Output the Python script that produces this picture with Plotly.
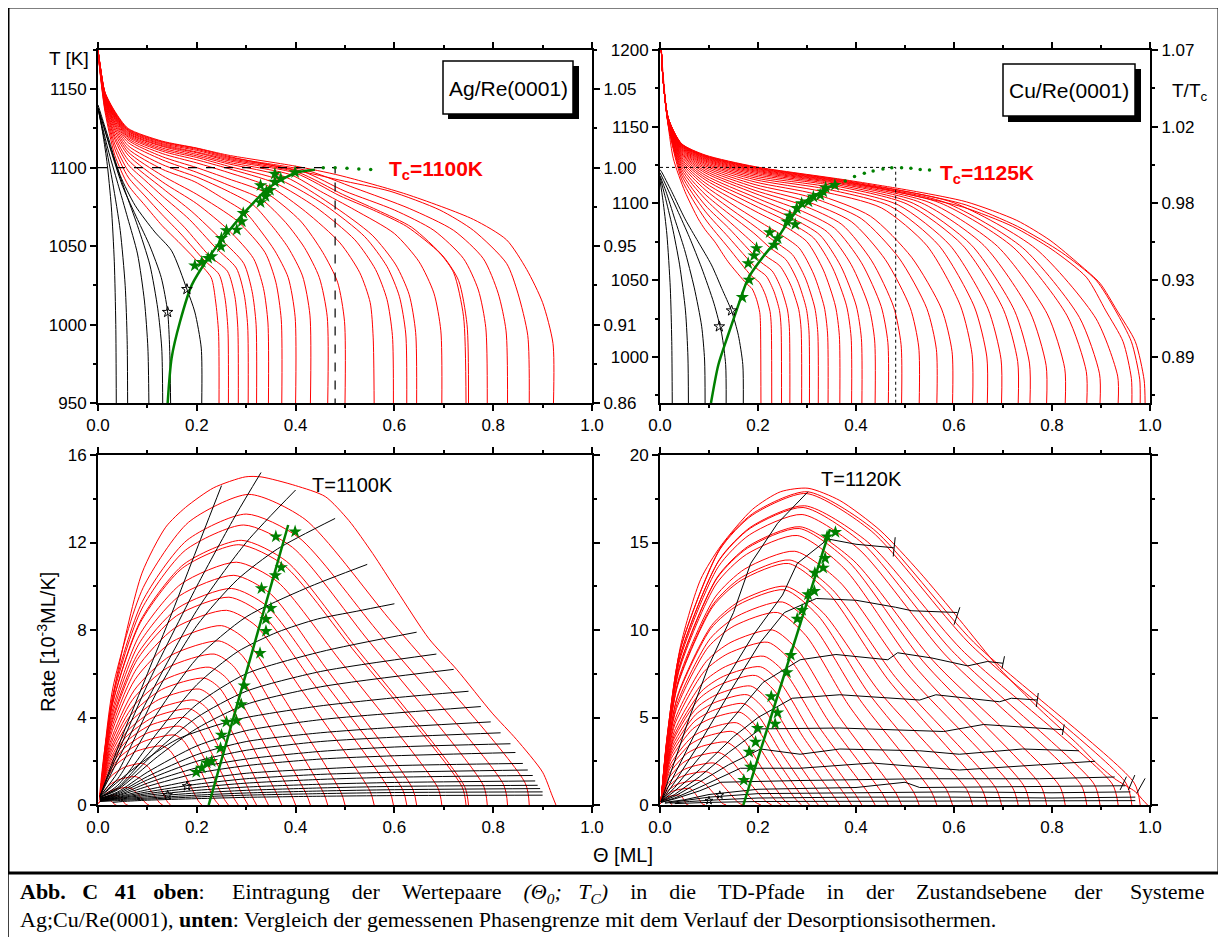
import plotly.graph_objects as go

W, H = 1226, 937
OFF = 8  # page body margin of the viewer
def fx(p): return (p - OFF) / W
def fy(p): return 1 - (p - OFF) / H

# ======================= TOP-LEFT : Ag/Re(0001) =======================
ag_T_ticks = [950, 1000, 1050, 1100, 1150]
ag_ratio_labels = ['0.86', '0.91', '0.95', '1.00', '1.05']

ag_red_theta = [
 [0.245,0.244,0.238,0.229,0.196,0.162,0.13,0.095,0.061,0.034,0.014,0.004,0.0],
 [0.264,0.263,0.257,0.245,0.215,0.17,0.13,0.095,0.061,0.034,0.014,0.004,0.0],
 [0.284,0.283,0.277,0.262,0.225,0.175,0.13,0.095,0.061,0.034,0.014,0.004,0.0],
 [0.304,0.303,0.296,0.28,0.238,0.185,0.13,0.095,0.061,0.034,0.014,0.004,0.0],
 [0.321,0.32,0.312,0.295,0.25,0.19,0.13,0.061,0.034,0.014,0.004,0.0],
 [0.345,0.344,0.335,0.315,0.265,0.2,0.13,0.061,0.034,0.014,0.004,0.0],
 [0.372,0.371,0.36,0.338,0.282,0.2,0.13,0.061,0.034,0.014,0.004,0.0],
 [0.40,0.399,0.385,0.358,0.331,0.30,0.25,0.196,0.13,0.061,0.034,0.014,0.004,0.0],
 [0.43,0.429,0.414,0.385,0.352,0.315,0.263,0.2,0.13,0.061,0.034,0.014,0.004,0.0],
 [0.465,0.464,0.448,0.418,0.38,0.33,0.263,0.2,0.13,0.061,0.034,0.014,0.004,0.0],
 [0.50,0.499,0.485,0.455,0.41,0.34,0.263,0.2,0.13,0.061,0.034,0.014,0.004,0.0],
 [0.559,0.557,0.551,0.53,0.49,0.42,0.35,0.263,0.2,0.13,0.061,0.034,0.014,0.004,0.0],
 [0.598,0.596,0.585,0.562,0.52,0.44,0.36,0.263,0.2,0.13,0.061,0.034,0.014,0.004,0.0],
 [0.625,0.623,0.61,0.585,0.54,0.46,0.37,0.263,0.2,0.13,0.061,0.034,0.014,0.004,0.0],
 [0.645,0.643,0.63,0.603,0.555,0.47,0.38,0.263,0.2,0.13,0.061,0.034,0.014,0.004,0.0],
 [0.696,0.694,0.68,0.65,0.6,0.52,0.45,0.39,0.263,0.2,0.13,0.061,0.034,0.014,0.004,0.0],
 [0.745,0.74,0.72,0.692,0.625,0.557,0.49,0.40,0.263,0.2,0.13,0.061,0.034,0.014,0.004,0.0],
 [0.75,0.747,0.73,0.70,0.635,0.565,0.495,0.405,0.263,0.2,0.13,0.061,0.034,0.014,0.004,0.0],
 [0.788,0.785,0.77,0.74,0.68,0.60,0.50,0.415,0.263,0.2,0.13,0.061,0.034,0.014,0.004,0.0],
 [0.829,0.826,0.81,0.78,0.72,0.63,0.52,0.425,0.263,0.2,0.13,0.061,0.034,0.014,0.004,0.0],
 [0.873,0.87,0.85,0.827,0.76,0.692,0.591,0.49,0.435,0.263,0.2,0.13,0.061,0.034,0.014,0.004,0.0],
 [0.922,0.921,0.90,0.868,0.827,0.76,0.625,0.49,0.399,0.263,0.2,0.129,0.061,0.034,0.014,0.004,0.0],
]
ag_red_T = [
 [950,995,1015,1030,1042,1053,1063,1076,1089,1108,1136,1161,1175],
 [950,997,1017,1032,1041,1057,1070,1082,1094,1112,1137.5,1161.5,1175],
 [950,998,1018,1034,1044,1062,1076,1087,1098,1115,1139,1162,1175],
 [950,999,1019,1036,1049,1067,1082,1092,1102,1118,1140,1162,1175],
 [950,1000,1021,1039,1054,1072,1087,1105,1120,1141,1162.5,1175],
 [950,1001,1023,1042,1060,1077,1091,1108,1122,1142,1163,1175],
 [950,1003,1027,1046,1066,1083,1095,1110,1124,1143,1163,1175],
 [950,1005,1030,1047,1059,1071,1081,1091,1099,1112,1125.5,1143.5,1163.5,1175],
 [950,1006,1031,1049,1063,1076,1085,1094,1102,1114,1127,1144,1164,1175],
 [950,1005,1030,1049,1065,1080,1089,1097,1105,1116,1128,1144.5,1164,1175],
 [950,1002,1027,1046,1066,1084,1093,1100,1107,1117.5,1129,1145,1164.5,1175],
 [950,992,1014,1033,1052,1072,1087.5,1097,1103,1109,1118.5,1130,1145.5,1164.5,1175],
 [950,993,1016,1035,1054,1075,1090,1099.5,1105,1110.5,1119.5,1131,1146,1165,1175],
 [950,994,1018,1037,1056,1076,1092,1101,1106.5,1111.5,1120.3,1131.7,1146.3,1165,1175],
 [950,995,1019,1038,1057,1077,1094,1102.5,1107.5,1112.5,1121,1132.3,1146.6,1165,1175],
 [950,996,1020,1040,1058,1073,1085,1095.5,1103.5,1108.5,1113.5,1121.7,1133,1147,1165.5,1175],
 [950,1005,1033,1045.5,1062.5,1073,1082,1096.5,1104.5,1109.5,1114,1122.3,1133.5,1147.2,1165.5,1175],
 [950,1000,1028,1043,1062,1073,1083,1097,1105.3,1110,1114.7,1123,1134,1147.4,1165.5,1175],
 [950,998,1022,1042,1060,1073,1085,1097.5,1106,1111,1115.3,1123.5,1134.5,1147.6,1166,1175],
 [950,996,1020,1042,1060,1074,1087,1098,1106.7,1111.7,1116,1124,1135,1147.8,1166,1175],
 [950,993,1020,1039,1060,1073,1085,1092,1096,1107.3,1112.3,1116.5,1124.5,1135.5,1148,1166,1175],
 [950,988,1014,1035,1054,1067,1083,1095,1101,1108,1112.5,1117,1125,1136,1148.2,1166,1175],
]
ag_black_theta = [
 [0.037,0.036,0.033,0.027,0.018,0.008,0.0],
 [0.06,0.059,0.055,0.045,0.03,0.015,0.005,0.0],
 [0.103,0.101,0.094,0.08,0.06,0.04,0.02,0.006,0.0],
 [0.131,0.129,0.121,0.105,0.08,0.055,0.03,0.01,0.0],
 [0.147,0.145,0.141,0.128,0.105,0.08,0.05,0.025,0.008,0.0],
 [0.21,0.209,0.196,0.18,0.149,0.115,0.075,0.045,0.02,0.006,0.0],
]
ag_black_T = [
 [950,1000,1040,1075,1104,1125,1138],
 [950,990,1025,1060,1090,1115,1130,1138],
 [950,985,1015,1045,1068,1090,1112,1130,1138],
 [950,985,1010,1038,1063,1085,1108,1128,1138],
 [950,985,1008,1030,1050,1067,1088,1112,1130,1138],
 [950,985,1008,1022.5,1047,1059,1076,1095,1120,1134,1140],
]
ag_green_theta = [0.141,0.149,0.166,0.19,0.223,0.264,0.304,0.345,0.399,0.439]
ag_green_T = [950,978.7,1001.8,1025.3,1042.3,1059.3,1074,1087,1096.6,1098.7]
ag_dot_theta = [0.456,0.48,0.504,0.528,0.552]
ag_dot_T = [1100,1100,1099.6,1099.2,1098.8]
ag_star_theta = [0.196,0.21,0.223,0.23,0.249,0.25,0.26,0.281,0.291,0.294,0.329,0.339,0.341,0.348,0.329,0.358,0.37,0.358,0.399]
ag_star_T = [1037.6,1039.8,1042.3,1043.4,1049.7,1055,1060,1060.4,1065.7,1071,1077.9,1081.7,1084.9,1085.7,1088.7,1090.9,1093,1096,1097]
ag_bstar_theta = [0.18,0.141]
ag_bstar_T = [1022.5,1007.9]
ag_Tc = 1100
ag_theta_c = 0.48

# ======================= TOP-RIGHT : Cu/Re(0001) =======================
cu_T_ticks = [1000, 1050, 1100, 1150, 1200]
cu_ratio_labels = ['0.89', '0.93', '0.98', '1.02', '1.07']

cu_red_theta = [
 [0.206,0.205,0.2036,0.197,0.188,0.176,0.139,0.112,0.092,0.078,0.051,0.027,0.014,0.006,0.002],
 [0.228,0.227,0.2246,0.2154,0.2028,0.186,0.14,0.092,0.044,0.017,0.006,0.002],
 [0.248,0.247,0.2438,0.2324,0.2168,0.196,0.14,0.092,0.044,0.017,0.006,0.002],
 [0.265,0.264,0.2602,0.247,0.229,0.205,0.14,0.092,0.044,0.017,0.006,0.002],
 [0.289,0.288,0.2831,0.2668,0.2446,0.215,0.194,0.092,0.044,0.017,0.006,0.002],
 [0.305,0.304,0.2986,0.281,0.257,0.225,0.194,0.092,0.044,0.017,0.006,0.002],
 [0.323,0.322,0.316,0.2966,0.2702,0.235,0.194,0.092,0.044,0.017,0.006,0.002],
 [0.343,0.342,0.3352,0.3136,0.2842,0.245,0.194,0.092,0.044,0.017,0.006,0.002],
 [0.367,0.366,0.358,0.3334,0.2998,0.255,0.194,0.092,0.044,0.017,0.006,0.002],
 [0.391,0.39,0.3807,0.3523,0.3136,0.262,0.194,0.092,0.044,0.017,0.006,0.002],
 [0.412,0.411,0.4006,0.3691,0.3262,0.269,0.194,0.092,0.044,0.017,0.006,0.002],
 [0.439,0.438,0.426,0.3901,0.3412,0.276,0.194,0.092,0.044,0.017,0.006,0.002],
 [0.466,0.465,0.4514,0.4111,0.3562,0.283,0.194,0.092,0.044,0.017,0.006,0.002],
 [0.493,0.492,0.4768,0.4321,0.3712,0.29,0.194,0.092,0.044,0.017,0.006,0.002],
 [0.529,0.528,0.5105,0.4597,0.3904,0.298,0.194,0.092,0.044,0.017,0.006,0.002],
 [0.565,0.564,0.5444,0.4879,0.4108,0.308,0.194,0.092,0.044,0.017,0.006,0.002],
 [0.597,0.596,0.5747,0.5133,0.4296,0.318,0.194,0.092,0.044,0.017,0.006,0.002],
 [0.638,0.637,0.6132,0.545,0.452,0.328,0.194,0.092,0.044,0.017,0.006,0.002],
 [0.668,0.667,0.6416,0.569,0.47,0.338,0.194,0.092,0.044,0.017,0.006,0.002],
 [0.697,0.696,0.6689,0.5917,0.4864,0.346,0.194,0.092,0.044,0.017,0.006,0.002],
 [0.731,0.73,0.7008,0.6176,0.5042,0.353,0.194,0.092,0.044,0.017,0.006,0.002],
 [0.755,0.754,0.7232,0.6359,0.5168,0.358,0.194,0.092,0.044,0.017,0.006,0.002],
 [0.789,0.788,0.7549,0.6612,0.5334,0.363,0.194,0.092,0.044,0.017,0.006,0.002],
 [0.827,0.826,0.7902,0.689,0.551,0.367,0.194,0.092,0.044,0.017,0.006,0.002],
 [0.871,0.87,0.8309,0.7207,0.5704,0.37,0.194,0.092,0.044,0.017,0.006,0.002],
 [0.898,0.897,0.8559,0.7402,0.5824,0.372,0.194,0.092,0.044,0.017,0.006,0.002],
 [0.935,0.934,0.8901,0.7667,0.5984,0.374,0.194,0.092,0.044,0.017,0.006,0.002],
 [0.963,0.962,0.945,0.91,0.87,0.80,0.72,0.62,0.52,0.376,0.194,0.092,0.044,0.017,0.006,0.002],
 [0.98,0.979,0.962,0.93,0.89,0.82,0.73,0.625,0.524,0.378,0.194,0.092,0.044,0.017,0.006,0.002],
 [0.99,0.988,0.97,0.932,0.898,0.857,0.796,0.728,0.626,0.524,0.38,0.194,0.092,0.044,0.017,0.007,0.002],
]
cu_red_T = [
 [970,1022,1029,1037.6,1044.4,1048,1062,1075,1083,1090,1107.7,1129.5,1158,1182,1205],
 [970,1021,1029.6,1040.2,1048.5,1053,1071,1090,1116,1150.5,1182,1205],
 [970,1020,1030.3,1042.8,1052.7,1058,1078,1095,1118.5,1151,1182,1205],
 [970,1019,1030.6,1044.8,1056,1062,1084,1099,1120.5,1151.3,1182,1205],
 [970,1018,1031,1046.8,1059.3,1066,1073,1103,1122.3,1151.6,1182,1205],
 [970,1017,1031.6,1049.4,1063.4,1071,1080,1106,1124,1152,1182,1205],
 [970,1016,1031.9,1051.4,1066.7,1075,1085,1109,1125.5,1152.3,1182,1205],
 [970,1015,1032.6,1054,1070.9,1080,1090,1111.5,1126.8,1152.6,1182,1205],
 [970,1014,1033.2,1056.6,1075.1,1085,1095,1113.5,1128,1152.9,1182,1205],
 [970,1013,1033.3,1058,1077.5,1088,1098.5,1115.5,1129,1153.2,1182,1205],
 [970,1012,1033.2,1059.1,1079.5,1090.5,1101.5,1117,1130,1153.4,1182,1205],
 [970,1011,1033.1,1060.2,1081.5,1093,1104,1118.5,1131,1153.6,1182,1205],
 [970,1009.5,1032.9,1061.4,1083.9,1096,1106.5,1120,1131.8,1153.8,1182,1205],
 [970,1008,1032.6,1062.6,1086.3,1099,1108.5,1121.2,1132.6,1154,1182,1205],
 [970,1006.5,1032.2,1063.5,1088.2,1101.5,1110.5,1122.4,1133.3,1154.2,1182,1205],
 [970,1005,1031.7,1064.4,1090.1,1104,1112.3,1123.5,1134,1154.4,1182,1205],
 [970,1003.5,1031.2,1065,1091.7,1106,1114,1124.5,1134.6,1154.5,1182,1205],
 [970,1001.5,1033.3,1072.4,1097.1,1108,1115.5,1125.4,1135.2,1154.6,1182,1205],
 [970,1000,1032.6,1072.7,1098.2,1109.5,1116.7,1126.2,1135.7,1154.7,1182,1205],
 [970,998.5,1031.8,1072.8,1099,1110.7,1117.8,1127,1136.2,1154.8,1182,1205],
 [970,997,1031,1072.8,1099.6,1111.7,1118.8,1127.7,1136.6,1154.9,1182,1205],
 [970,996,1030.4,1072.8,1100.1,1112.4,1119.7,1128.3,1137,1155,1182,1205],
 [970,994.5,1029.5,1072.6,1100.4,1113,1120.5,1128.9,1137.4,1155.1,1182,1205],
 [970,992.5,1028.1,1072,1100.5,1113.4,1121.2,1129.4,1137.7,1155.2,1182,1205],
 [970,990.5,1026.8,1071.5,1100.5,1113.8,1121.8,1129.9,1138,1155.3,1182,1205],
 [970,989,1025.8,1071.1,1100.6,1114.1,1122.4,1130.3,1138.3,1155.3,1182,1205],
 [970,987.5,1024.8,1070.6,1100.6,1114.4,1122.9,1130.7,1138.5,1155.4,1182,1205],
 [970,986,1010,1030,1052,1070,1085,1097.5,1105,1114.7,1123.3,1131,1138.7,1155.4,1182,1205],
 [970,985.5,1010,1030,1050,1068,1085,1099,1106.5,1115,1123.7,1131.3,1138.9,1155.5,1182,1205],
 [970,985,1010,1030.6,1048,1060,1076,1089,1101,1107.7,1115.3,1124,1131.6,1139,1155.5,1181.6,1205],
]
cu_black_theta = [
 [0.025,0.024,0.021,0.014,0.006,0.0],
 [0.058,0.057,0.052,0.04,0.025,0.01,0.0],
 [0.092,0.091,0.085,0.07,0.05,0.03,0.012,0.0],
 [0.135,0.134,0.126,0.11,0.085,0.06,0.035,0.012,0.0],
 [0.17,0.169,0.16,0.146,0.126,0.105,0.078,0.051,0.024,0.003,0.0],
]
cu_black_T = [
 [970,1010,1045,1080,1102,1115],
 [970,1000,1030,1060,1085,1105,1117],
 [970,998,1020,1045,1070,1090,1108,1118],
 [970,995,1015,1035,1058,1078,1096,1112,1120],
 [970,995,1014,1030,1044.7,1060,1075,1090,1107.7,1120.7,1122],
]
cu_green_theta = [0.104,0.119,0.139,0.16,0.18,0.208,0.235,0.262,0.296,0.33,0.361]
cu_green_T = [970,994.8,1014.3,1033.9,1051.3,1064.3,1075.1,1088.1,1101.2,1107.7,1113.2]
cu_dot_theta = [0.378,0.397,0.417,0.435,0.455,0.473,0.493,0.512,0.531,0.55]
cu_dot_T = [1114.6,1117.5,1119.7,1121.2,1122.5,1123.3,1123.3,1122.9,1122.2,1121.8]
cu_star_theta = [0.168,0.182,0.18,0.192,0.197,0.224,0.233,0.24,0.259,0.265,0.276,0.279,0.289,0.303,0.313,0.327,0.333,0.338,0.357]
cu_star_T = [1038.9,1050.2,1061,1066,1070.8,1081.2,1073,1077.3,1088.2,1092,1086.4,1096.9,1100.1,1101.2,1104.4,1105.5,1107.7,1110.3,1112]
cu_bstar_theta = [0.146,0.121]
cu_bstar_T = [1030.2,1019.8]
cu_Tc = 1123.5
cu_theta_c = 0.481

# ======================= BOTTOM-LEFT : rate, T=1100K =======================
agr_red_theta = [
 [0.927,0.919,0.9,0.847,0.798,0.726,0.67,0.605,0.556,0.508,0.46,0.40,0.33,0.298,0.234,0.177,0.137,0.089,0.04,0.012,0.003],
 [0.873,0.865,0.589,0.419,0.305,0.183,0.0915,0.0305,0.004],
 [0.829,0.821,0.5645,0.4058,0.30,0.18,0.09,0.03,0.004],
 [0.788,0.78,0.5415,0.3936,0.295,0.177,0.0885,0.0295,0.004],
 [0.75,0.742,0.52,0.382,0.29,0.174,0.087,0.029,0.004],
 [0.745,0.737,0.515,0.377,0.285,0.171,0.0855,0.0285,0.004],
 [0.696,0.688,0.488,0.363,0.28,0.168,0.084,0.028,0.004],
 [0.645,0.637,0.46,0.349,0.275,0.165,0.0825,0.0275,0.004],
 [0.625,0.617,0.4475,0.341,0.27,0.162,0.081,0.027,0.004],
 [0.598,0.59,0.4315,0.3316,0.265,0.159,0.0795,0.0265,0.004],
 [0.559,0.551,0.4095,0.3198,0.26,0.156,0.078,0.026,0.004],
 [0.50,0.492,0.375,0.30,0.25,0.15,0.075,0.025,0.004],
 [0.465,0.457,0.355,0.289,0.245,0.147,0.0735,0.0245,0.004],
 [0.43,0.422,0.3325,0.274,0.235,0.141,0.0705,0.0235,0.004],
 [0.40,0.392,0.3125,0.26,0.225,0.135,0.0675,0.0225,0.004],
 [0.372,0.364,0.2935,0.2464,0.215,0.129,0.0645,0.0215,0.004],
 [0.345,0.337,0.275,0.233,0.205,0.123,0.0615,0.0205,0.004],
 [0.321,0.313,0.258,0.2202,0.195,0.117,0.0585,0.0195,0.004],
 [0.304,0.296,0.2445,0.2088,0.185,0.111,0.0555,0.0185,0.004],
 [0.284,0.276,0.2295,0.1968,0.175,0.105,0.0525,0.0175,0.004],
 [0.264,0.256,0.2145,0.1848,0.165,0.099,0.0495,0.0165,0.004],
 [0.245,0.237,0.20,0.173,0.155,0.093,0.0465,0.0155,0.004],
 [0.21,0.203,0.17,0.146,0.13,0.078,0.039,0.013,0.004],
 [0.147,0.141,0.1185,0.1014,0.09,0.054,0.027,0.009,0.003],
 [0.131,0.125,0.103,0.0862,0.075,0.045,0.0225,0.0075,0.003],
 [0.103,0.098,0.0815,0.0686,0.06,0.036,0.018,0.006,0.002],
 [0.06,0.056,0.0475,0.04,0.035,0.021,0.0105,0.0035,0.001],
 [0.037,0.034,0.0285,0.0234,0.02,0.012,0.006,0.002,0.0005],
]
agr_red_rate = [
 [0,0.45,1.5,3.0,4.2,6.2,7.6,9.8,11.5,13.0,14.1,14.6,15.0,15.0,14.5,13.6,12.7,10.6,6.1,2.3,0.4],
 [0,0.99,8.52,13.06,14.2,12.92,9.94,5.4,0.35],
 [0,0.93,7.98,12.24,13.3,12.1,9.31,5.05,0.35],
 [0,0.9,7.68,11.78,12.8,11.65,8.96,4.86,0.35],
 [0,0.85,7.26,11.13,12.1,11.01,8.47,4.6,0.35],
 [0,0.83,7.14,10.95,11.9,10.83,8.33,4.52,0.35],
 [0,0.78,6.66,10.21,11.1,10.1,7.77,4.22,0.35],
 [0,0.74,6.3,9.66,10.5,9.56,7.35,3.99,0.35],
 [0,0.69,5.94,9.11,9.9,9.01,6.93,3.76,0.35],
 [0,0.67,5.7,8.74,9.5,8.65,6.65,3.61,0.35],
 [0,0.62,5.34,8.19,8.9,8.1,6.23,3.38,0.35],
 [0,0.57,4.92,7.54,8.2,7.46,5.74,3.12,0.35],
 [0,0.53,4.5,6.9,7.5,6.83,5.25,2.85,0.35],
 [0,0.48,4.14,6.35,6.9,6.28,4.83,2.62,0.35],
 [0,0.44,3.78,5.8,6.3,5.73,4.41,2.39,0.35],
 [0,0.41,3.48,5.34,5.8,5.28,4.06,2.2,0.35],
 [0,0.37,3.18,4.88,5.3,4.82,3.71,2.01,0.35],
 [0,0.34,2.88,4.42,4.8,4.37,3.36,1.82,0.35],
 [0,0.31,2.64,4.05,4.4,4.0,3.08,1.67,0.35],
 [0,0.28,2.4,3.68,4.0,3.64,2.8,1.52,0.35],
 [0,0.25,2.16,3.31,3.6,3.28,2.52,1.37,0.35],
 [0,0.22,1.92,2.94,3.2,2.91,2.24,1.22,0.35],
 [0,0.19,1.62,2.48,2.7,2.46,1.89,1.03,0.35],
 [0,0.13,1.14,1.75,1.9,1.73,1.33,0.72,0.3],
 [0,0.09,0.78,1.2,1.3,1.18,0.91,0.49,0.25],
 [0,0.06,0.48,0.74,0.8,0.73,0.56,0.3,0.2],
 [0,0.03,0.27,0.41,0.45,0.41,0.32,0.17,0.1],
 [0,0.02,0.15,0.23,0.25,0.23,0.18,0.1,0.05],
]
agr_iso_theta = [
 [0.004,0.05,0.1,0.15,0.2,0.25],
 [0.004,0.05,0.1,0.2,0.28,0.33],
 [0.004,0.05,0.1,0.2,0.3,0.4],
 [0.004,0.04,0.12,0.2,0.282,0.363,0.48],
 [0.004,0.04,0.12,0.2,0.3,0.42,0.545],
 [0.004,0.04,0.12,0.2,0.282,0.363,0.444,0.524,0.6],
 [0.004,0.04,0.12,0.2,0.3,0.45,0.645],
 [0.004,0.04,0.12,0.2,0.3,0.45,0.685],
 [0.004,0.04,0.12,0.2,0.3,0.45,0.72],
 [0.004,0.016,0.08,0.16,0.28,0.44,0.6,0.75],
 [0.004,0.04,0.1,0.2,0.3,0.45,0.6,0.775],
 [0.004,0.04,0.1,0.2,0.3,0.45,0.6,0.795],
 [0.004,0.04,0.1,0.2,0.3,0.45,0.6,0.815],
 [0.004,0.04,0.1,0.2,0.3,0.45,0.6,0.835],
 [0.004,0.04,0.1,0.2,0.3,0.45,0.6,0.845],
 [0.004,0.04,0.1,0.2,0.3,0.45,0.6,0.86],
 [0.004,0.04,0.1,0.2,0.3,0.45,0.6,0.87],
 [0.004,0.04,0.1,0.2,0.3,0.45,0.6,0.88],
 [0.004,0.04,0.1,0.2,0.3,0.45,0.6,0.885],
 [0.004,0.04,0.1,0.2,0.3,0.45,0.6,0.89],
 [0.004,0.04,0.1,0.2,0.3,0.45,0.6,0.895],
 [0.004,0.04,0.1,0.2,0.3,0.45,0.6,0.9],
 [0.03,0.05,0.1,0.2,0.3,0.45,0.6,0.9],
]
agr_iso_rate = [
 [0.4,3.2,6.0,8.8,11.7,14.6],
 [0.4,2.9,5.5,10.0,13.3,15.2],
 [0.4,2.5,4.8,8.9,12.0,14.4],
 [0.4,1.5,5.2,8.2,10.3,11.7,13.1],
 [0.4,1.2,4.2,6.7,8.6,9.9,11.0],
 [0.35,0.9,3.3,5.5,7.0,7.9,8.5,8.86,9.2],
 [0.35,0.8,2.8,4.6,6.0,7.0,7.9],
 [0.35,0.75,2.5,4.0,5.2,6.1,6.9],
 [0.35,0.7,2.2,3.5,4.6,5.4,6.2],
 [0.35,0.6,1.8,3.0,3.9,4.5,4.9,5.2],
 [0.3,0.6,1.5,2.7,3.4,3.9,4.2,4.5],
 [0.3,0.55,1.3,2.3,2.9,3.3,3.55,3.8],
 [0.3,0.5,1.15,2.0,2.5,2.9,3.1,3.3],
 [0.3,0.45,1.0,1.7,2.1,2.45,2.65,2.8],
 [0.28,0.42,0.85,1.45,1.8,2.1,2.25,2.4],
 [0.26,0.38,0.7,1.15,1.45,1.65,1.8,1.9],
 [0.25,0.35,0.6,0.95,1.2,1.4,1.5,1.6],
 [0.24,0.32,0.52,0.8,1.0,1.17,1.27,1.35],
 [0.22,0.3,0.45,0.67,0.82,0.95,1.03,1.1],
 [0.2,0.27,0.38,0.55,0.67,0.78,0.85,0.9],
 [0.18,0.24,0.32,0.45,0.55,0.64,0.7,0.75],
 [0.16,0.2,0.27,0.37,0.45,0.52,0.57,0.6],
 [0.12,0.16,0.22,0.29,0.35,0.4,0.43,0.45],
]
agr_green_theta = [0.224, 0.385]
agr_green_rate = [0.0, 12.8]
agr_star_theta = [0.199,0.21,0.22,0.23,0.248,0.25,0.26,0.28,0.29,0.296,0.328,0.34,0.34,0.35,0.331,0.359,0.371,0.36,0.399]
agr_star_rate = [1.5,1.7,1.94,2.0,2.6,3.2,3.8,3.86,4.6,5.45,6.94,7.95,8.5,9.0,9.9,10.5,10.86,12.27,12.5]
agr_bstar_theta = [0.18,0.141]
agr_bstar_rate = [0.86,0.45]

# ======================= BOTTOM-RIGHT : rate, T=1120K =======================
cur_red_theta = [
 [0.995,0.985,0.97,0.928,0.888,0.855,0.774,0.693,0.611,0.53,0.449,0.367,0.302,0.246,0.189,0.124,0.083,0.042,0.014,0.002],
 [0.98,0.968,0.64,0.436,0.30,0.189,0.123,0.042,0.0141,0.002],
 [0.963,0.951,0.6305,0.431,0.298,0.1877,0.1222,0.0417,0.014,0.002],
 [0.935,0.923,0.615,0.423,0.295,0.1859,0.121,0.0413,0.0139,0.002],
 [0.898,0.886,0.595,0.4132,0.292,0.184,0.1197,0.0409,0.0137,0.002],
 [0.871,0.859,0.5805,0.4062,0.29,0.1827,0.1189,0.0406,0.0136,0.002],
 [0.827,0.815,0.5565,0.3942,0.286,0.1802,0.1173,0.04,0.0134,0.002],
 [0.789,0.777,0.5365,0.385,0.284,0.1789,0.1164,0.0398,0.0133,0.002],
 [0.755,0.743,0.5175,0.375,0.28,0.1764,0.1148,0.0392,0.0132,0.002],
 [0.731,0.719,0.503,0.3662,0.275,0.1733,0.1128,0.0385,0.0129,0.002],
 [0.697,0.685,0.481,0.3514,0.265,0.167,0.1087,0.0371,0.0125,0.002],
 [0.668,0.656,0.465,0.3432,0.262,0.1651,0.1074,0.0367,0.0123,0.002],
 [0.638,0.626,0.447,0.3324,0.256,0.1613,0.105,0.0358,0.012,0.002],
 [0.597,0.585,0.4255,0.3226,0.254,0.16,0.1041,0.0356,0.0119,0.002],
 [0.565,0.553,0.4075,0.313,0.25,0.1575,0.1025,0.035,0.0118,0.002],
 [0.529,0.517,0.3845,0.2978,0.24,0.1512,0.0984,0.0336,0.0113,0.002],
 [0.493,0.481,0.3615,0.2826,0.23,0.1449,0.0943,0.0322,0.0108,0.002],
 [0.466,0.454,0.343,0.2692,0.22,0.1386,0.0902,0.0308,0.0103,0.002],
 [0.439,0.427,0.3255,0.2574,0.212,0.1336,0.0869,0.0297,0.01,0.002],
 [0.412,0.4,0.3085,0.2464,0.205,0.1292,0.0841,0.0287,0.0096,0.002],
 [0.391,0.379,0.293,0.2342,0.195,0.1229,0.08,0.0273,0.0092,0.002],
 [0.367,0.355,0.276,0.2214,0.185,0.1166,0.0759,0.0259,0.0087,0.002],
 [0.343,0.331,0.2605,0.211,0.178,0.1121,0.073,0.0249,0.0084,0.002],
 [0.323,0.311,0.2465,0.2006,0.17,0.1071,0.0697,0.0238,0.008,0.002],
 [0.305,0.293,0.234,0.1914,0.163,0.1027,0.0668,0.0228,0.0077,0.002],
 [0.289,0.277,0.2225,0.1826,0.156,0.0983,0.064,0.0218,0.0073,0.002],
 [0.265,0.253,0.2065,0.1714,0.148,0.0932,0.0607,0.0207,0.007,0.002],
 [0.248,0.236,0.1915,0.1576,0.135,0.085,0.0554,0.0189,0.0063,0.002],
 [0.228,0.216,0.174,0.1416,0.12,0.0756,0.0492,0.0168,0.0056,0.002],
 [0.206,0.194,0.158,0.1292,0.11,0.0693,0.0451,0.0154,0.0052,0.002],
 [0.17,0.16,0.1325,0.11,0.095,0.0599,0.039,0.0133,0.0045],
 [0.135,0.127,0.1075,0.091,0.08,0.0504,0.0328,0.0112,0.0038],
 [0.092,0.086,0.076,0.0664,0.06,0.0378,0.0246,0.0084,0.0028],
 [0.058,0.054,0.049,0.0436,0.04,0.0252,0.0164,0.0056,0.0019],
 [0.025,0.024,0.02,0.017,0.015,0.0095,0.0062,0.0021,0.0007],
]
cur_red_rate = [
 [0,0.3,0.76,1.5,2.46,3.4,5.5,7.8,10.6,13.3,15.7,17.4,18.1,17.9,16.9,14.8,12.9,9.1,3.8,0.2],
 [0,1.25,9.31,15.75,17.9,16.65,14.68,8.95,3.76,0.2],
 [0,1.25,9.26,15.66,17.8,16.55,14.6,8.9,3.74,0.2],
 [0,1.2,8.89,15.05,17.1,15.9,14.02,8.55,3.59,0.2],
 [0,1.19,8.84,14.96,17.0,15.81,13.94,8.5,3.57,0.2],
 [0,1.16,8.63,14.61,16.6,15.44,13.61,8.3,3.49,0.2],
 [0,1.11,8.27,13.99,15.9,14.79,13.04,7.95,3.34,0.2],
 [0,1.11,8.22,13.9,15.8,14.69,12.96,7.9,3.32,0.2],
 [0,1.08,8.01,13.55,15.4,14.32,12.63,7.7,3.23,0.2],
 [0,1.02,7.54,12.76,14.5,13.49,11.89,7.25,3.05,0.2],
 [0,0.98,7.28,12.32,14.0,13.02,11.48,7.0,2.94,0.2],
 [0,0.97,7.18,12.14,13.8,12.83,11.32,6.9,2.9,0.2],
 [0,0.88,6.5,11.0,12.5,11.63,10.25,6.25,2.63,0.2],
 [0,0.86,6.4,10.82,12.3,11.44,10.09,6.15,2.58,0.2],
 [0,0.81,6.03,10.21,11.6,10.79,9.51,5.8,2.44,0.2],
 [0,0.77,5.72,9.68,11.0,10.23,9.02,5.5,2.31,0.2],
 [0,0.7,5.2,8.8,10.0,9.3,8.2,5.0,2.1,0.2],
 [0,0.65,4.84,8.18,9.3,8.65,7.63,4.65,1.95,0.2],
 [0,0.6,4.42,7.48,8.5,7.91,6.97,4.25,1.79,0.2],
 [0,0.55,4.11,6.95,7.9,7.35,6.48,3.95,1.66,0.2],
 [0,0.52,3.85,6.51,7.4,6.88,6.07,3.7,1.55,0.2],
 [0,0.48,3.54,5.98,6.8,6.32,5.58,3.4,1.43,0.2],
 [0,0.44,3.28,5.54,6.3,5.86,5.17,3.15,1.32,0.2],
 [0,0.41,3.02,5.1,5.8,5.39,4.76,2.9,1.22,0.2],
 [0,0.37,2.76,4.66,5.3,4.93,4.35,2.65,1.11,0.2],
 [0,0.33,2.44,4.14,4.7,4.37,3.85,2.35,0.99,0.2],
 [0,0.29,2.18,3.7,4.2,3.91,3.44,2.1,0.88,0.2],
 [0,0.25,1.87,3.17,3.6,3.35,2.95,1.8,0.76,0.2],
 [0,0.21,1.56,2.64,3.0,2.79,2.46,1.5,0.63,0.2],
 [0,0.17,1.25,2.11,2.4,2.23,1.97,1.2,0.5,0.2],
 [0,0.13,0.99,1.67,1.9,1.77,1.56,0.95,0.4],
 [0,0.1,0.73,1.23,1.4,1.3,1.15,0.7,0.29],
 [0,0.07,0.49,0.84,0.95,0.88,0.78,0.48,0.2],
 [0,0.04,0.3,0.5,0.57,0.53,0.47,0.29,0.12],
 [0,0.02,0.16,0.26,0.3,0.28,0.25,0.15,0.06],
]
cur_iso_theta = [
 [0.002,0.03,0.06,0.1,0.15,0.185,0.24,0.302],
 [0.002,0.03,0.07,0.12,0.19,0.25,0.28,0.343,0.4,0.477],
 [0.002,0.03,0.08,0.15,0.205,0.254,0.319,0.4,0.481,0.514,0.607],
 [0.002,0.03,0.08,0.15,0.21,0.286,0.359,0.465,0.485,0.555,0.628,0.668,0.70],
 [0.002,0.03,0.08,0.15,0.2,0.27,0.367,0.53,0.563,0.693,0.717,0.77],
 [0.002,0.03,0.08,0.14,0.205,0.367,0.579,0.66,0.823],
 [0.002,0.03,0.08,0.14,0.205,0.286,0.367,0.53,0.611,0.74,0.855],
 [0.002,0.03,0.08,0.164,0.286,0.433,0.611,0.782,0.888],
 [0.002,0.03,0.08,0.124,0.286,0.53,0.774,0.928],
 [0.01,0.05,0.1,0.2,0.4,0.5,0.53,0.7,0.95],
 [0.01,0.05,0.1,0.2,0.4,0.6,0.8,0.96],
 [0.02,0.06,0.12,0.2,0.4,0.6,0.8,0.97],
 [0.03,0.1,0.2,0.4,0.6,0.8,0.97],
]
cur_iso_rate = [
 [0.2,2.5,5.0,8.0,11.0,13.8,16.1,17.9],
 [0.2,1.8,4.0,6.5,9.7,12.0,13.8,15.2,14.9,14.7],
 [0.2,1.3,3.5,6.8,9.3,11.0,11.8,11.7,11.3,11.1,11.0],
 [0.2,1.0,2.7,5.0,7.0,8.3,8.6,8.3,8.7,8.4,7.95,8.2,8.1],
 [0.2,0.8,2.0,3.9,5.0,6.1,6.3,6.0,6.3,5.9,6.1,6.0],
 [0.2,0.6,1.6,3.0,4.35,4.4,4.2,4.6,4.3],
 [0.2,0.5,1.3,2.3,3.2,2.9,3.2,3.1,2.9,3.2,3.1],
 [0.15,0.4,1.0,2.1,2.1,2.4,2.0,2.3,2.5],
 [0.15,0.35,0.8,1.3,1.4,1.5,1.5,1.6],
 [0.15,0.3,0.6,0.9,1.0,1.3,1.0,1.05,1.1],
 [0.1,0.25,0.45,0.65,0.7,0.75,0.7,0.75],
 [0.1,0.2,0.3,0.4,0.45,0.45,0.4,0.45],
 [0.08,0.15,0.2,0.22,0.25,0.23,0.25],
]
cur_hook_theta = [[0.476,0.48],[0.6,0.612],[0.698,0.703],[0.768,0.772],[0.821,0.825],[0.939,0.952],[0.956,0.969],[0.973,0.99]]
cur_hook_rate = [[14.2,15.3],[10.3,11.3],[7.8,8.5],[5.6,6.4],[4.0,4.6],[0.86,1.62],[0.86,1.71],[0.67,1.52]]
cur_green_theta = [0.17, 0.347]
cur_green_rate = [0.0, 15.76]
cur_star_theta = [0.171,0.185,0.182,0.195,0.199,0.235,0.24,0.227,0.259,0.267,0.28,0.29,0.302,0.315,0.316,0.333,0.337,0.341,0.358]
cur_star_rate = [1.42,2.18,3.03,3.6,4.39,4.64,5.27,6.2,7.58,8.56,10.64,11.14,12.03,12.22,13.26,13.55,14.1,15.34,15.59]
cur_bstar_theta = [0.122,0.1]
cur_bstar_rate = [0.57,0.25]

# ======================= figure =======================
RED = '#ff0000'
GREEN = '#008000'
FONT = 'Liberation Sans'
fig = go.Figure()

def lines(xs_list, ys_list, xa, ya, color, width=1.0, shape='spline', smooth=0.7, dash='solid'):
    for xs, ys in zip(xs_list, ys_list):
        ln = dict(color=color, width=width, shape=shape, dash=dash)
        if shape == 'spline':
            ln['smoothing'] = smooth
        fig.add_trace(go.Scatter(x=xs, y=ys, xaxis=xa, yaxis=ya, mode='lines',
                                 line=ln, hoverinfo='skip', showlegend=False))

def stars(xs, ys, xa, ya, color, symbol, size):
    fig.add_trace(go.Scatter(x=xs, y=ys, xaxis=xa, yaxis=ya, mode='markers',
                             marker=dict(symbol=symbol, size=size, color=color,
                                         line=dict(color=color, width=1 if 'open' in symbol else 0)),
                             hoverinfo='skip', showlegend=False))

# top-left
lines(ag_black_theta, ag_black_T, 'x', 'y', 'black', 1.0)
lines(ag_red_theta, ag_red_T, 'x', 'y', RED, 1.0)
lines([[0, ag_theta_c, ag_theta_c]], [[ag_Tc, ag_Tc, 950]], 'x', 'y', 'black', 1.2, shape='linear', dash='dash')
lines([ag_green_theta], [ag_green_T], 'x', 'y', GREEN, 2.5)
fig.add_trace(go.Scatter(x=ag_dot_theta, y=ag_dot_T, xaxis='x', yaxis='y', mode='markers',
                         marker=dict(size=3.5, color=GREEN), hoverinfo='skip', showlegend=False))
stars(ag_star_theta, ag_star_T, 'x', 'y', GREEN, 'star', 10)
stars(ag_bstar_theta, ag_bstar_T, 'x', 'y', 'black', 'star-open', 8)
fig.add_trace(go.Scatter(x=[None], y=[None], xaxis='x', yaxis='y2', showlegend=False))

# top-right
lines(cu_black_theta, cu_black_T, 'x3', 'y3', 'black', 1.0)
lines(cu_red_theta, cu_red_T, 'x3', 'y3', RED, 1.0)
lines([[0, cu_theta_c, cu_theta_c]], [[cu_Tc, cu_Tc, 970]], 'x3', 'y3', 'black', 1.0, shape='linear', dash='dot')
lines([cu_green_theta], [cu_green_T], 'x3', 'y3', GREEN, 2.5)
fig.add_trace(go.Scatter(x=cu_dot_theta, y=cu_dot_T, xaxis='x3', yaxis='y3', mode='markers',
                         marker=dict(size=3.5, color=GREEN), hoverinfo='skip', showlegend=False))
stars(cu_star_theta, cu_star_T, 'x3', 'y3', GREEN, 'star', 10)
stars(cu_bstar_theta, cu_bstar_T, 'x3', 'y3', 'black', 'star-open', 8)
fig.add_trace(go.Scatter(x=[None], y=[None], xaxis='x3', yaxis='y4', showlegend=False))

# bottom-left
lines(agr_red_theta, agr_red_rate, 'x5', 'y5', RED, 1.0)
lines(agr_iso_theta, agr_iso_rate, 'x5', 'y5', 'black', 1.0)
lines([agr_green_theta], [agr_green_rate], 'x5', 'y5', GREEN, 2.5, shape='linear')
stars(agr_star_theta, agr_star_rate, 'x5', 'y5', GREEN, 'star', 10)
stars(agr_bstar_theta, agr_bstar_rate, 'x5', 'y5', 'black', 'star-open', 7)

# bottom-right
lines(cur_red_theta, cur_red_rate, 'x6', 'y6', RED, 1.0)
lines(cur_iso_theta, cur_iso_rate, 'x6', 'y6', 'black', 1.0, shape='linear')
lines(cur_hook_theta, cur_hook_rate, 'x6', 'y6', 'black', 1.0, shape='linear')
lines([cur_green_theta], [cur_green_rate], 'x6', 'y6', GREEN, 2.5, shape='linear')
stars(cur_star_theta, cur_star_rate, 'x6', 'y6', GREEN, 'star', 10)
stars(cur_bstar_theta, cur_bstar_rate, 'x6', 'y6', 'black', 'star-open', 6)

# ---------------- axes ----------------
TLx = [fx(98), fx(592)]
TRx = [fx(660), fx(1150)]
TOPy = [fy(403), fy(50)]
BOTy = [fy(805), fy(455)]

tickfont = dict(family=FONT, size=17, color='black')
def minor(**kw):
    d = dict(ticks='outside', ticklen=3, tickwidth=1.5, tickcolor='black', showgrid=False)
    d.update(kw)
    return d
base = dict(showline=True, linecolor='black', linewidth=2, ticks='outside', ticklen=6,
            tickwidth=1.5, tickcolor='black', showgrid=False, zeroline=False, tickfont=tickfont,
            automargin=False)

def xax(domain, anchor):
    return dict(domain=domain, anchor=anchor, range=[0, 1], tick0=0, dtick=0.2, tickformat='.1f',
                mirror='ticks', minor=minor(tick0=0, dtick=0.1), **base)

layout = dict(
    template='none',
    width=W, height=H, autosize=False,
    margin=dict(l=0, r=0, t=0, b=0, pad=0, autoexpand=False),
    paper_bgcolor='white', plot_bgcolor='white',
    showlegend=False,
    xaxis=xax(TLx, 'y'),
    yaxis=dict(domain=TOPy, anchor='x', range=[950, 1175], tickmode='array', tickvals=ag_T_ticks,
               minor=minor(tick0=950, dtick=25), **base),
    yaxis2=dict(overlaying='y', side='right', anchor='x', range=[950, 1175], tickmode='array',
                tickvals=ag_T_ticks, ticktext=ag_ratio_labels, minor=minor(tick0=950, dtick=25), **base),
    xaxis3=xax(TRx, 'y3'),
    yaxis3=dict(domain=TOPy, anchor='x3', range=[970, 1200], tickmode='array', tickvals=cu_T_ticks,
                minor=minor(tick0=975, dtick=25), **base),
    yaxis4=dict(overlaying='y3', side='right', anchor='x3', range=[970, 1200], tickmode='array',
                tickvals=cu_T_ticks, ticktext=cu_ratio_labels, minor=minor(tick0=975, dtick=25), **base),
    xaxis5=xax(TLx, 'y5'),
    yaxis5=dict(domain=BOTy, anchor='x5', range=[0, 16], tick0=0, dtick=4, mirror='ticks',
                minor=minor(tick0=0, dtick=2), **base),
    xaxis6=xax(TRx, 'y6'),
    yaxis6=dict(domain=BOTy, anchor='x6', range=[0, 20], tick0=0, dtick=5, mirror='ticks',
                minor=minor(tick0=0, dtick=2.5), **base),
)
fig.update_layout(**layout)

# ---------------- shapes (frame, legend boxes) ----------------
shapes = [
    dict(type='rect', xref='paper', yref='paper', x0=fx(8), x1=fx(1219), y0=fy(873), y1=fy(7),
         line=dict(color='black', width=3)),
    dict(type='line', xref='paper', yref='paper', x0=fx(8), x1=fx(8), y0=fy(873), y1=fy(937),
         line=dict(color='black', width=1.5)),
    dict(type='line', xref='paper', yref='paper', x0=fx(1219), x1=fx(1219), y0=fy(873), y1=fy(937),
         line=dict(color='black', width=1.5)),
    dict(type='rect', xref='paper', yref='paper', x0=fx(448), x1=fx(579), y0=fy(119), y1=fy(66),
         fillcolor='black', line=dict(width=0)),
    dict(type='rect', xref='paper', yref='paper', x0=fx(443), x1=fx(573), y0=fy(114), y1=fy(61),
         fillcolor='white', line=dict(color='black', width=1.5)),
    dict(type='rect', xref='paper', yref='paper', x0=fx(1008), x1=fx(1141), y0=fy(122), y1=fy(69),
         fillcolor='black', line=dict(width=0)),
    dict(type='rect', xref='paper', yref='paper', x0=fx(1003), x1=fx(1135), y0=fy(116), y1=fy(64),
         fillcolor='white', line=dict(color='black', width=1.5)),
]
fig.update_layout(shapes=shapes)

# ---------------- texts ----------------
def ann(text, px, py, size=17, color='black', xanchor='center', family=FONT, angle=0):
    return dict(text=text, x=fx(px), y=fy(py), xref='paper', yref='paper', showarrow=False,
                xanchor=xanchor, yanchor='middle', textangle=angle,
                font=dict(family=family, size=size, color=color))

g2 = ' ' + '\u00a0' * 2
g3 = ' ' + '\u00a0' * 3
g4 = ' ' + '\u00a0' * 4
cap1 = ('<b>Abb.' + g2 + 'C' + g2 + '41' + g2 + 'oben</b>:' + g4 + 'Eintragung' + g3 + 'der' + g3 +
        'Wertepaare' + g3 + '<i>(Θ<sub>0</sub>;' + g2 + 'T<sub>C</sub>)</i>' + g3 + 'in' + g3 + 'die' + g3 +
        'TD-Pfade' + g3 + 'in' + g3 + 'der' + g3 + 'Zustandsebene' + g4 + 'der' + g4 + 'Systeme')
cap2 = ('Ag;Cu/Re(0001), <b>unten</b>: Vergleich der gemessenen Phasengrenze mit dem Verlauf '
        'der Desorptionsisothermen.')

annotations = [
    ann('T [K]', 69, 59, 19),
    ann('Ag/Re(0001)', 508, 88, 21),
    ann('Cu/Re(0001)', 1069, 90, 21),
    ann('T/T<sub>c</sub>', 1190, 92, 19),
    ann('<b>T<sub>c</sub>=1100K</b>', 436, 170, 21, RED),
    ann('<b>T<sub>c</sub>=1125K</b>', 987, 174, 21, RED),
    ann('T=1100K', 352, 485, 20),
    ann('T=1120K', 861, 479, 20),
    ann('Rate [10<sup>-3</sup>ML/K]', 46, 642, 20, angle=-90),
    ann('Θ [ML]', 623, 855, 20),
    ann(cap1, 18, 893, 22, xanchor='left', family='Liberation Serif'),
    ann(cap2, 18, 919, 22, xanchor='left', family='Liberation Serif'),
]
fig.update_layout(annotations=annotations)

fig.write_html("out.html")
